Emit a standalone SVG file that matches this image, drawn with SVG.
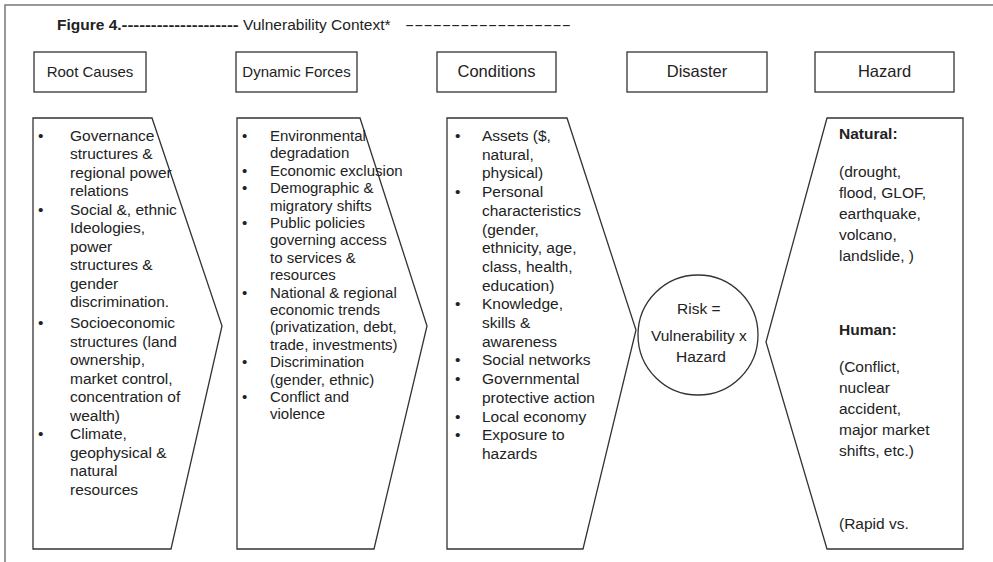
<svg xmlns="http://www.w3.org/2000/svg" width="993" height="562" viewBox="0 0 993 562">
<style>
.t{font-family:"Liberation Sans",Arial,sans-serif;fill:#222}
.h{font-size:16.5px;text-anchor:middle}
.hs{font-size:15px}
.b{font-size:15.5px}
.s{font-size:15px}
.bold{font-weight:bold}
.shape{fill:#fff;stroke:#333;stroke-width:1.3}
.frame{fill:none;stroke:#777;stroke-width:1.5}
</style>
<rect width="993" height="562" fill="#fff"/>
<path class="frame" d="M5,562 V5 H993"/>
<text class="t b" x="57" y="30"><tspan class="bold">Figure 4.</tspan><tspan class="bold" textLength="117" lengthAdjust="spacingAndGlyphs">--------------------</tspan><tspan> Vulnerability Context*</tspan><tspan x="405" textLength="166" lengthAdjust="spacingAndGlyphs">------------------</tspan></text>

<g id="hdr-root"><rect class="shape" x="34" y="52" width="112" height="40"/><text class="t h hs" x="90" y="77">Root Causes</text></g>
<g id="hdr-dynamic"><rect class="shape" x="236" y="52" width="121" height="40"/><text class="t h hs" x="296.5" y="77">Dynamic Forces</text></g>
<g id="hdr-conditions"><rect class="shape" x="437" y="52" width="119" height="40"/><text class="t h" x="496.5" y="77">Conditions</text></g>
<g id="hdr-disaster"><rect class="shape" x="627" y="52" width="140" height="40"/><text class="t h" x="697" y="77">Disaster</text></g>
<g id="hdr-hazard"><rect class="shape" x="815" y="52" width="139" height="40"/><text class="t h" x="884.5" y="77">Hazard</text></g>

<g id="root-causes">
<path class="shape" d="M33,118 H152 L222,326 L171,549 H33 Z"/>
<text class="t b">
<tspan x="38" y="140.5">•</tspan><tspan x="70" y="140.5">Governance</tspan>
<tspan x="70" y="159">structures  &amp;</tspan>
<tspan x="70" y="177.5">regional power</tspan>
<tspan x="70" y="196">relations</tspan>
<tspan x="38" y="214.5">•</tspan><tspan x="70" y="214.5">Social  &amp;, ethnic</tspan>
<tspan x="70" y="233">Ideologies,</tspan>
<tspan x="70" y="251.5">power</tspan>
<tspan x="70" y="270">structures  &amp;</tspan>
<tspan x="70" y="288.5">gender</tspan>
<tspan x="70" y="307">discrimination.</tspan>
<tspan x="38" y="328">•</tspan><tspan x="70" y="328">Socioeconomic</tspan>
<tspan x="70" y="346.5">structures (land</tspan>
<tspan x="70" y="365">ownership,</tspan>
<tspan x="70" y="383.5">market control,</tspan>
<tspan x="70" y="402">concentration of</tspan>
<tspan x="70" y="420.5">wealth)</tspan>
<tspan x="38" y="439">•</tspan><tspan x="70" y="439">Climate,</tspan>
<tspan x="70" y="457.5">geophysical &amp;</tspan>
<tspan x="70" y="476">natural</tspan>
<tspan x="70" y="494.5">resources</tspan>
</text>
</g>

<g id="dynamic-forces">
<path class="shape" d="M237,118 H360 L427,326 L374,549 H237 Z"/>
<text class="t s">
<tspan x="242" y="141">•</tspan><tspan x="270" y="141">Environmental</tspan>
<tspan x="270" y="158.4">degradation</tspan>
<tspan x="242" y="175.8">•</tspan><tspan x="270" y="175.8">Economic exclusion</tspan>
<tspan x="242" y="193.2">•</tspan><tspan x="270" y="193.2">Demographic &amp;</tspan>
<tspan x="270" y="210.6">migratory shifts</tspan>
<tspan x="242" y="228">•</tspan><tspan x="270" y="228">Public policies</tspan>
<tspan x="270" y="245.4">governing access</tspan>
<tspan x="270" y="262.8">to services &amp;</tspan>
<tspan x="270" y="280.2">resources</tspan>
<tspan x="242" y="297.6">•</tspan><tspan x="270" y="297.6">National &amp; regional</tspan>
<tspan x="270" y="315">economic trends</tspan>
<tspan x="270" y="332.4">(privatization, debt,</tspan>
<tspan x="270" y="349.8">trade, investments)</tspan>
<tspan x="242" y="367.2">•</tspan><tspan x="270" y="367.2">Discrimination</tspan>
<tspan x="270" y="384.6">(gender, ethnic)</tspan>
<tspan x="242" y="402">•</tspan><tspan x="270" y="402">Conflict and</tspan>
<tspan x="270" y="419.4">violence</tspan>
</text>
</g>

<g id="conditions">
<path class="shape" d="M447,118 H567 L636,330 L583,549 H447 Z"/>
<text class="t b">
<tspan x="455" y="141">•</tspan><tspan x="482" y="141">Assets ($,</tspan>
<tspan x="482" y="159.7">natural,</tspan>
<tspan x="482" y="178.4">physical)</tspan>
<tspan x="455" y="197.1">•</tspan><tspan x="482" y="197.1">Personal</tspan>
<tspan x="482" y="215.8">characteristics</tspan>
<tspan x="482" y="234.5">(gender,</tspan>
<tspan x="482" y="253.2">ethnicity, age,</tspan>
<tspan x="482" y="271.9">class, health,</tspan>
<tspan x="482" y="290.6">education)</tspan>
<tspan x="455" y="309.3">•</tspan><tspan x="482" y="309.3">Knowledge,</tspan>
<tspan x="482" y="328">skills &amp;</tspan>
<tspan x="482" y="346.7">awareness</tspan>
<tspan x="455" y="365.4">•</tspan><tspan x="482" y="365.4">Social networks</tspan>
<tspan x="455" y="384.1">•</tspan><tspan x="482" y="384.1">Governmental</tspan>
<tspan x="482" y="402.8">protective action</tspan>
<tspan x="455" y="421.5">•</tspan><tspan x="482" y="421.5">Local economy</tspan>
<tspan x="455" y="440.2">•</tspan><tspan x="482" y="440.2">Exposure to</tspan>
<tspan x="482" y="458.9">hazards</tspan>
</text>
</g>

<g id="disaster">
<circle class="shape" cx="698" cy="335" r="60"/>
<text class="t b" text-anchor="middle">
<tspan x="701" y="313.5">Risk =</tspan>
<tspan x="701" y="340.5">Vulnerability x</tspan>
<tspan x="701" y="361.5">Hazard</tspan>
</text>
</g>

<g id="hazard">
<path class="shape" d="M827,118 H963 V549 H827 L766,342 Z"/>
<text class="t b">
<tspan class="bold" x="839" y="138.5">Natural:</tspan>
<tspan x="839" y="176.5">(drought,</tspan>
<tspan x="839" y="197.5">flood, GLOF,</tspan>
<tspan x="839" y="218.5">earthquake,</tspan>
<tspan x="839" y="239.5">volcano,</tspan>
<tspan x="839" y="260.5">landslide, )</tspan>
<tspan class="bold" x="839" y="334.5">Human:</tspan>
<tspan x="839" y="371.5">(Conflict,</tspan>
<tspan x="839" y="392.5">nuclear</tspan>
<tspan x="839" y="413.5">accident,</tspan>
<tspan x="839" y="434.5">major market</tspan>
<tspan x="839" y="455.5">shifts, etc.)</tspan>
<tspan x="839" y="528.5">(Rapid vs.</tspan>
</text>
</g>
<g id="connectors"></g>
</svg>
